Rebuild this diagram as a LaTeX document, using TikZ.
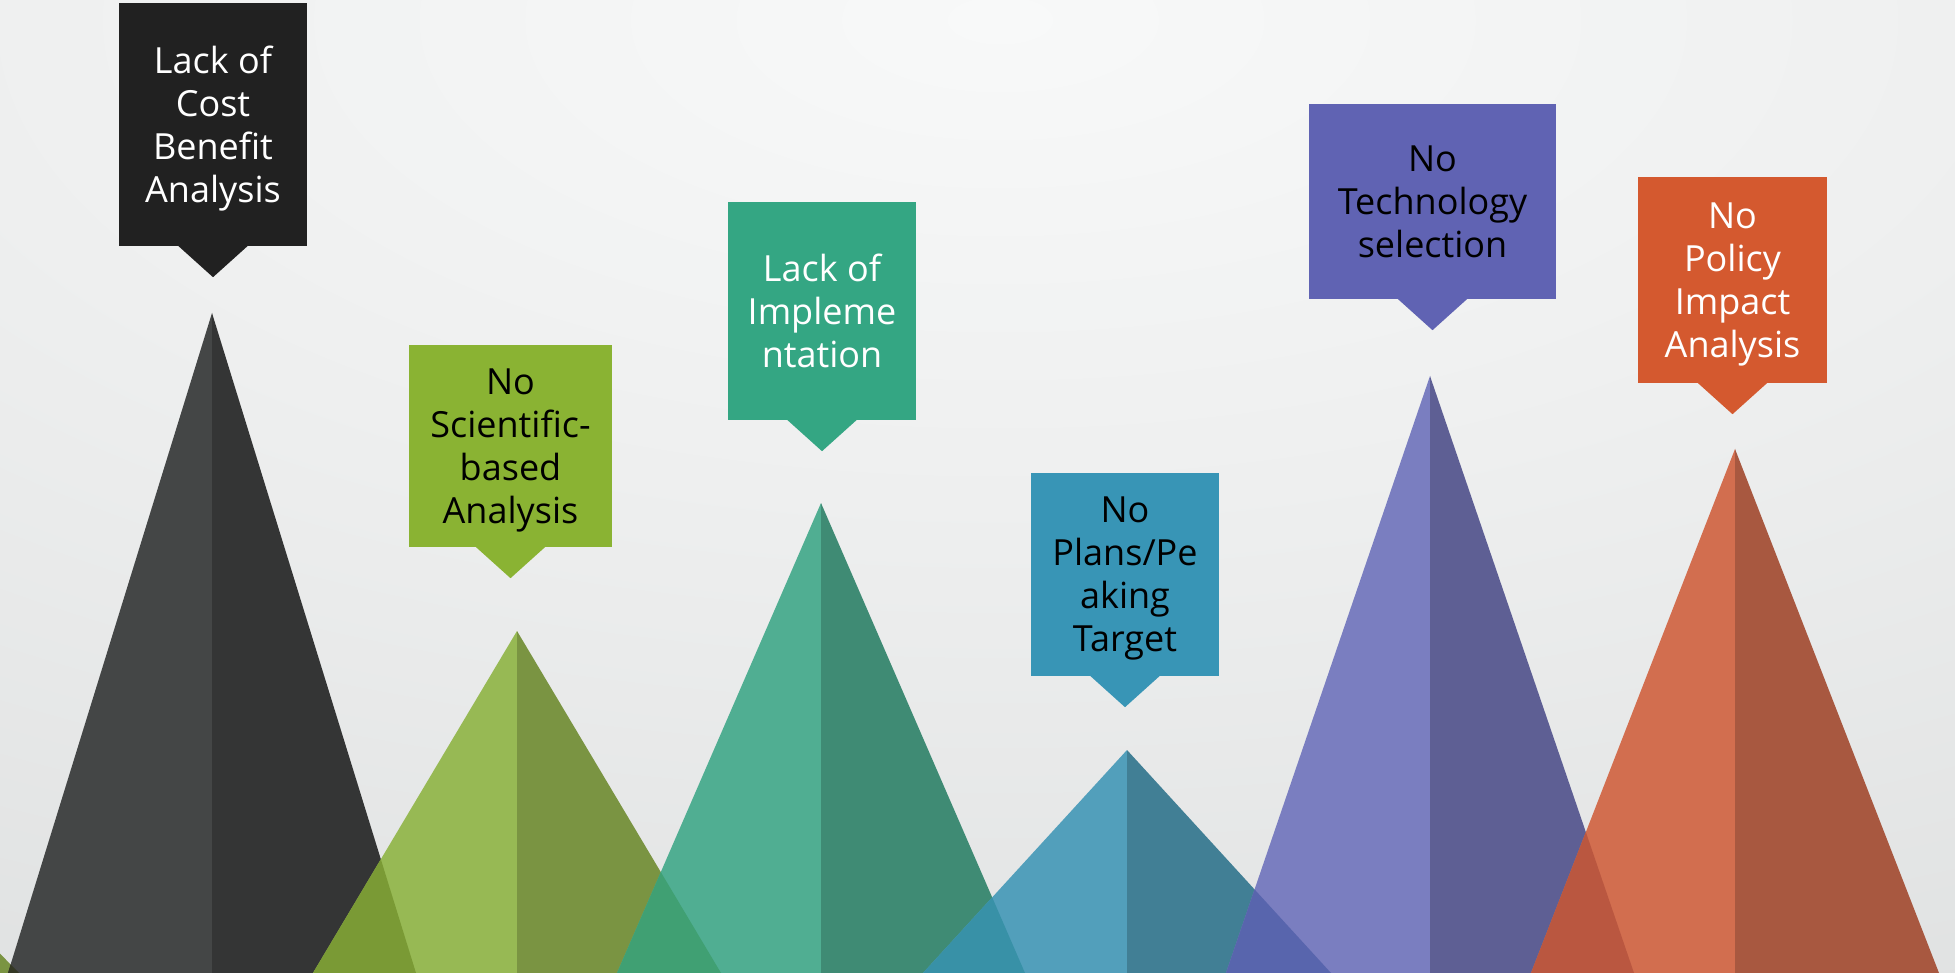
\documentclass[tikz,border=0pt]{standalone}
\usepackage{fontspec}
\setmainfont{Open Sans}
\definecolor{bgA}{HTML}{F8F9F9}
\definecolor{bgB}{HTML}{EEEFEF}
\definecolor{bgC}{HTML}{DDDFDF}
\definecolor{bgD}{HTML}{C8CBCC}
\pgfdeclareradialshading{bgshade}{\pgfpoint{0bp}{0bp}}{color(0bp)=(bgA); color(12bp)=(bgB); color(30bp)=(bgC); color(48bp)=(bgD); color(50bp)=(bgD)}
% triangle colours
\definecolor{dkL}{HTML}{444646}
\definecolor{dkR}{HTML}{343535}
\definecolor{grL}{HTML}{97B954}
\definecolor{grR}{HTML}{7A9442}
\definecolor{tlL}{HTML}{50AE92}
\definecolor{tlR}{HTML}{3F8B74}
\definecolor{blL}{HTML}{529FBB}
\definecolor{blR}{HTML}{417F95}
\definecolor{puL}{HTML}{7A7EC0}
\definecolor{puR}{HTML}{5E5F94}
\definecolor{orL}{HTML}{D26E4F}
\definecolor{orR}{HTML}{A85840}
% overlap colours
\definecolor{ovA}{HTML}{343824}
\definecolor{ovB}{HTML}{7A9A35}
\definecolor{ovC}{HTML}{40A073}
\definecolor{ovD}{HTML}{3891A7}
\definecolor{ovE}{HTML}{5865AD}
\definecolor{ovF}{HTML}{BA5740}
% box colours
\definecolor{bxK}{HTML}{212121}
\definecolor{bxG}{HTML}{8AB333}
\definecolor{bxT}{HTML}{34A683}
\definecolor{bxB}{HTML}{3895B6}
\definecolor{bxP}{HTML}{6063B3}
\definecolor{bxO}{HTML}{D4592F}
\newcommand\halftris[4]{%
  \fill[#3] (#1,#2) -- ({#1-204},973) -- (#1,973) -- cycle;
  \fill[#4] (#1,#2) -- ({#1+204},973) -- (#1,973) -- cycle;}
\newcommand\ovl[5]{% right half of tri (#1,#2) intersect left half of tri (#3,#4)
  \begin{scope}
  \clip (#1,#2) -- ({#1+204},973) -- (#1,973) -- cycle;
  \fill[#5] (#3,#4) -- ({#3-204},973) -- (#3,973) -- cycle;
  \end{scope}}
\newcommand\pointer[2]{%
  \fill[#2] ([xshift=-35pt,yshift=0.5pt]#1.south) -- ([xshift=35pt,yshift=0.5pt]#1.south) -- ([yshift=-31pt]#1.south) -- cycle;}
\begin{document}
\begin{tikzpicture}[x=1pt,y=-1pt,
  callbox/.style={rectangle, inner sep=0pt, align=center, text depth=0pt,
    font=\fontsize{36}{43}\selectfont}]
\useasboundingbox (0,0) rectangle (1955,973);
\begin{scope}
\clip (0,0) rectangle (1955,973);
\shade[shading=bgshade] (-1200,-980) rectangle (3200,1020);
% triangles
\halftris{-185}{765}{grL}{grR}
\halftris{212}{313}{dkL}{dkR}
\ovl{-185}{765}{212}{313}{ovA}
\halftris{517}{631}{grL}{grR}
\ovl{212}{313}{517}{631}{ovB}
\halftris{821}{503}{tlL}{tlR}
\ovl{517}{631}{821}{503}{ovC}
\halftris{1127}{750}{blL}{blR}
\ovl{821}{503}{1127}{750}{ovD}
\halftris{1430}{376}{puL}{puR}
\ovl{1127}{750}{1430}{376}{ovE}
\halftris{1735}{449}{orL}{orR}
\ovl{1430}{376}{1735}{449}{ovF}
\end{scope}
% callouts
\node[callbox, fill=bxK, text=white, minimum width=188pt, minimum height=243pt] (b1) at (213,124.5) {Lack of\\Cost\\Benefit\\Analysis};
\pointer{b1}{bxK}
\node[callbox, fill=bxG, text=black, minimum width=203pt, minimum height=202pt] (b2) at (510.5,446) {No\\Scientific-\\based\\Analysis};
\pointer{b2}{bxG}
\node[callbox, fill=bxT, text=white, minimum width=188pt, minimum height=218pt] (b3) at (822,311) {Lack of\\Impleme\\ntation};
\pointer{b3}{bxT}
\node[callbox, fill=bxB, text=black, minimum width=188pt, minimum height=203pt] (b4) at (1125,574.5) {No\\Plans/Pe\\aking\\Target};
\pointer{b4}{bxB}
\node[callbox, fill=bxP, text=black, minimum width=247pt, minimum height=195pt] (b5) at (1432.5,201.5) {No\\Technology\\selection};
\pointer{b5}{bxP}
\node[callbox, fill=bxO, text=white, minimum width=189pt, minimum height=206pt] (b6) at (1732.5,280) {No\\Policy\\Impact\\Analysis};
\pointer{b6}{bxO}
\end{tikzpicture}
\end{document}
